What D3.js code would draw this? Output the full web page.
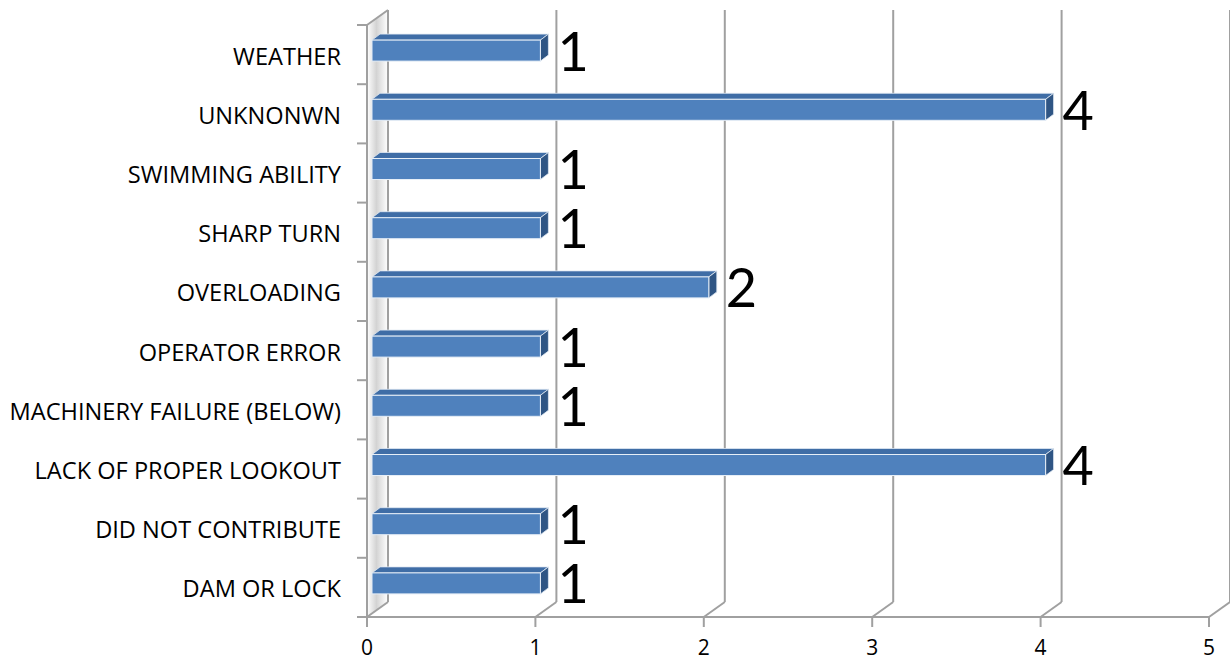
<!DOCTYPE html>
<html><head><meta charset="utf-8">
<script src="https://cdn.jsdelivr.net/npm/d3@7"></script>
<style>body{margin:0;background:#fff}svg{display:block}</style>
</head><body>
<svg id="c" width="1230" height="662"></svg>
<script>
const categories = ["DAM OR LOCK","DID NOT CONTRIBUTE","LACK OF PROPER LOOKOUT","MACHINERY FAILURE (BELOW)","OPERATOR ERROR","OVERLOADING","SHARP TURN","SWIMMING ABILITY","UNKNONWN","WEATHER"];
const values = [1,1,4,1,1,2,1,1,4,1];
const xTicks = [0,1,2,3,4,5];

const svg = d3.select("#c");
const font = "Lato, 'Open Sans', sans-serif";
const labFont = "'Open Sans', Lato, sans-serif";
const DX = 21, DY = -15;           // full depth offset
const BX = 5, BY = -4;             // bar plane offset
const BDX = 8, BDY = -6;           // bar depth
const x = d3.scaleLinear().domain([0,5]).range([367,1209]);
const y = d3.scaleBand().domain(categories).range([617,25]).paddingInner(0).paddingOuter(0);
const barH = 21;
const grid = "#a0a0a0";

const defs = svg.append("defs");
const g1 = defs.append("linearGradient").attr("id","wall").attr("x1","0").attr("x2","1").attr("y1","0").attr("y2","0");
g1.append("stop").attr("offset","0").attr("stop-color","#ffffff");
g1.append("stop").attr("offset","0.45").attr("stop-color","#c8c8c8");
g1.append("stop").attr("offset","0.6").attr("stop-color","#d8d8d8");
g1.append("stop").attr("offset","1").attr("stop-color","#ffffff");

const top0 = y.range()[1], bot0 = y.range()[0];
svg.append("path")
  .attr("d", `M${x(0)},${top0} L${x(0)+DX},${top0+DY} L${x(0)+DX},${bot0+DY} L${x(0)},${bot0} Z`)
  .attr("fill","url(#wall)").attr("opacity",0.8);

xTicks.forEach(t => {
  svg.append("line").attr("x1",x(t)+DX).attr("x2",x(t)+DX).attr("y1",top0+DY).attr("y2",bot0+DY)
    .attr("stroke",grid).attr("stroke-width",2);
  svg.append("line").attr("x1",x(t)).attr("x2",x(t)+DX).attr("y1",bot0).attr("y2",bot0+DY)
    .attr("stroke",grid).attr("stroke-width",2);
});
svg.append("line").attr("x1",x(0)).attr("x2",x(0)+DX).attr("y1",top0).attr("y2",top0+DY)
  .attr("stroke",grid).attr("stroke-width",2);

const bars = svg.append("g");
categories.forEach((c,i) => {
  const v = values[i];
  const x0 = x(0)+BX, x1 = x(v)+BX;
  const yc = y(c) + y.bandwidth()/2 + BY;
  const yt = yc - barH/2, yb = yc + barH/2;
  bars.append("path").attr("d",`M${x0},${yt} L${x0+BDX},${yt+BDY} L${x1+BDX},${yt+BDY} L${x1},${yt} Z`)
    .attr("fill","#3f6da6").attr("stroke","#dfe8f3").attr("stroke-width",0.8);
  bars.append("path").attr("d",`M${x1},${yt} L${x1+BDX},${yt+BDY} L${x1+BDX},${yb+BDY} L${x1},${yb} Z`)
    .attr("fill","#2f5584").attr("stroke","#dfe8f3").attr("stroke-width",0.8);
  bars.append("rect").attr("x",x0).attr("y",yt).attr("width",x1-x0).attr("height",barH)
    .attr("fill","#4f81bd").attr("stroke","#e6eef7").attr("stroke-width",1);
  svg.append("text").attr("x",x1+BDX+9).attr("y",yc+20)
    .attr("font-family",font).attr("font-size",54).attr("fill","#000").text(v);
  svg.append("text").attr("x",341).attr("y",y(c)+y.bandwidth()/2+1)
    .attr("text-anchor","end").attr("dominant-baseline","central")
    .attr("font-family",labFont).attr("font-size",23.6).attr("fill","#000").text(c);
});

svg.append("line").attr("x1",x(0)).attr("x2",x(0)).attr("y1",top0).attr("y2",bot0).attr("stroke",grid).attr("stroke-width",2);
svg.append("line").attr("x1",x(0)).attr("x2",x(5)).attr("y1",bot0).attr("y2",bot0).attr("stroke",grid).attr("stroke-width",2);
const bounds = categories.map(c => y(c)).concat([y.range()[0]]);
bounds.forEach(b => svg.append("line").attr("x1",x(0)-10).attr("x2",x(0)).attr("y1",b).attr("y2",b).attr("stroke",grid).attr("stroke-width",2));
xTicks.forEach(t => {
  svg.append("line").attr("x1",x(t)).attr("x2",x(t)).attr("y1",bot0).attr("y2",bot0+10).attr("stroke",grid).attr("stroke-width",2);
  svg.append("text").attr("x",x(t)).attr("y",655).attr("text-anchor","middle")
    .attr("font-family",labFont).attr("font-size",21).attr("fill","#000").text(t);
});
</script>
</body></html>
